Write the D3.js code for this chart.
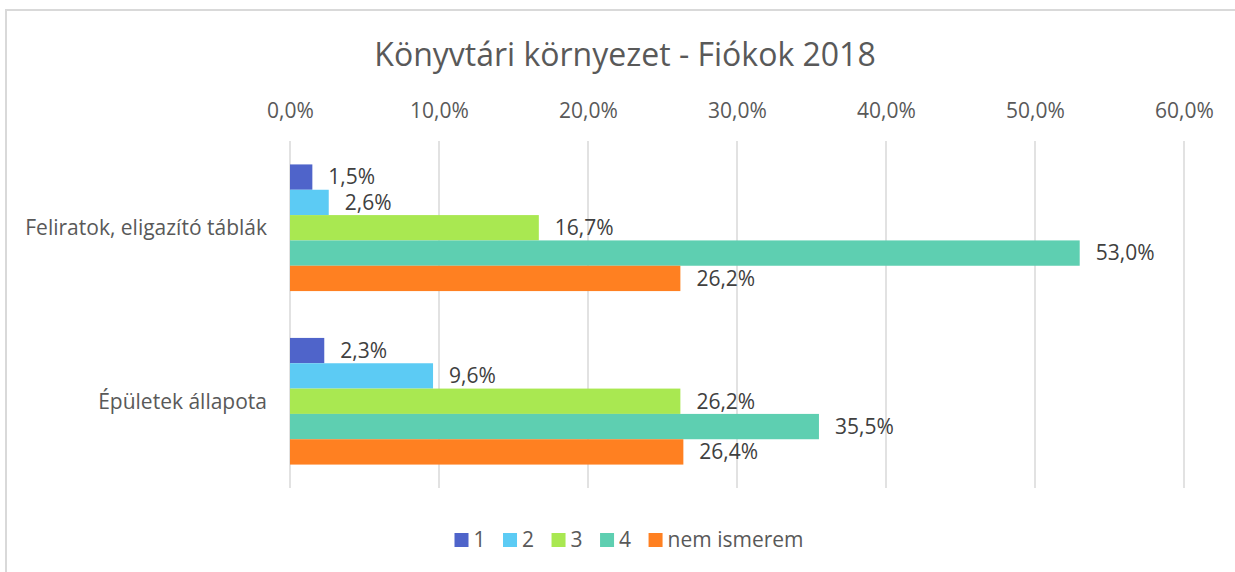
<!DOCTYPE html>
<html>
<head>
<meta charset="utf-8">
<script src="https://cdn.jsdelivr.net/npm/d3@7"></script>
<style>
    body { margin: 0; background: #fff; }
    svg { display: block; font-family: "Open Sans", sans-serif; }
</style>
</head>
<body>
<svg id="chart"></svg>
<script>
var categories = ["Feliratok, eligazító táblák", "Épületek állapota"];
var seriesNames = ["1", "2", "3", "4", "nem ismerem"];
var values1 = [1.5, 2.3];
var values2 = [2.6, 9.6];
var values3 = [16.7, 26.2];
var values4 = [53.0, 35.5];
var valuesNem = [26.2, 26.4];
var ticks = [0, 10, 20, 30, 40, 50, 60];

var colors = ["#4f64ca", "#5ccbf4", "#a9e851", "#5ecfb1", "#ff8021"];

var width = 1235,
    height = 572;

var chart = (function() {

    var series = [values1, values2, values3, values4, valuesNem];

    var svg = d3.select("#chart")
        .attr("width", width)
        .attr("height", height);

    // chart frame
    svg.append("rect")
        .attr("x", 6)
        .attr("y", 10)
        .attr("width", width + 20)
        .attr("height", height + 20)
        .attr("fill", "none")
        .attr("stroke", "#d9d9d9")
        .attr("stroke-width", 2);

    var fmt = function(v) {
        return v.toFixed(1).replace(".", ",") + "%";
    };

    var x = d3.scaleLinear().domain([0, 60]).range([290, 1184]);

    var y = d3.scaleBand()
        .domain(categories)
        .range([141, 488])
        .paddingInner(0.27)
        .paddingOuter(0.135);

    var ySub = d3.scaleBand()
        .domain(d3.range(seriesNames.length))
        .range([0, y.bandwidth()]);

    svg.append("text")
        .attr("x", 625)
        .attr("y", 66)
        .attr("text-anchor", "middle")
        .attr("fill", "#595959")
        .style("font-size", "32px")
        .text("Könyvtári környezet - Fiókok 2018");

    // grid
    svg.append("g").selectAll("line")
        .data(ticks)
        .enter()
        .append("line")
        .attr("x1", function(d) { return x(d); })
        .attr("x2", function(d) { return x(d); })
        .attr("y1", 141)
        .attr("y2", 488)
        .attr("stroke", "#d9d9d9")
        .attr("stroke-width", 1.5);

    var xAxis = d3.axisTop(x).tickValues(ticks).tickSize(0).tickPadding(0)
        .tickFormat(fmt);
    var gx = svg.append("g")
        .attr("transform", "translate(0,118)")
        .call(xAxis);
    gx.select(".domain").remove();
    gx.selectAll("text")
        .attr("fill", "#595959")
        .attr("dy", 0)
        .style("font-family", "Open Sans, sans-serif")
        .style("font-size", "21px");

    var yAxis = d3.axisLeft(y).tickSize(0).tickPadding(23);
    var gy = svg.append("g")
        .attr("transform", "translate(290,0)")
        .call(yAxis);
    gy.select(".domain").remove();
    gy.selectAll("text")
        .attr("fill", "#595959")
        .attr("dy", "0.35em")
        .style("font-family", "Open Sans, sans-serif")
        .style("font-size", "21px");

    var rows = [];
    categories.forEach(function(c, ci) {
        series.forEach(function(s, si) {
            rows.push({ cat: c, s: si, v: s[ci] });
        });
    });

    svg.append("g").selectAll("rect")
        .data(rows)
        .enter()
        .append("rect")
        .attr("x", x(0))
        .attr("y", function(d) { return y(d.cat) + ySub(d.s); })
        .attr("width", function(d) { return x(d.v) - x(0); })
        .attr("height", ySub.bandwidth())
        .attr("fill", function(d) { return colors[d.s]; });

    svg.append("g").selectAll("text")
        .data(rows)
        .enter()
        .append("text")
        .attr("x", function(d) { return x(d.v) + 16; })
        .attr("y", function(d) { return y(d.cat) + ySub(d.s) + ySub.bandwidth() / 2; })
        .attr("dy", "0.35em")
        .attr("fill", "#404040")
        .style("font-size", "21px")
        .text(function(d) { return fmt(d.v); });

    // legend
    var legend = svg.append("g");
    var lx = 0;
    seriesNames.forEach(function(name, i) {
        var item = legend.append("g").attr("transform", "translate(" + lx + ",0)");
        item.append("rect")
            .attr("x", 0)
            .attr("y", -7)
            .attr("width", 14)
            .attr("height", 14)
            .attr("fill", colors[i]);
        var t = item.append("text")
            .attr("x", 19)
            .attr("dy", "0.35em")
            .attr("fill", "#595959")
            .style("font-size", "21px")
            .text(name);
        lx += 19 + t.node().getComputedTextLength() + 17.5;
    });
    var lw = lx - 17.5;
    legend.attr("transform", "translate(" + (629 - lw / 2) + ",540)");

    return svg;
})();
</script>
</body>
</html>
